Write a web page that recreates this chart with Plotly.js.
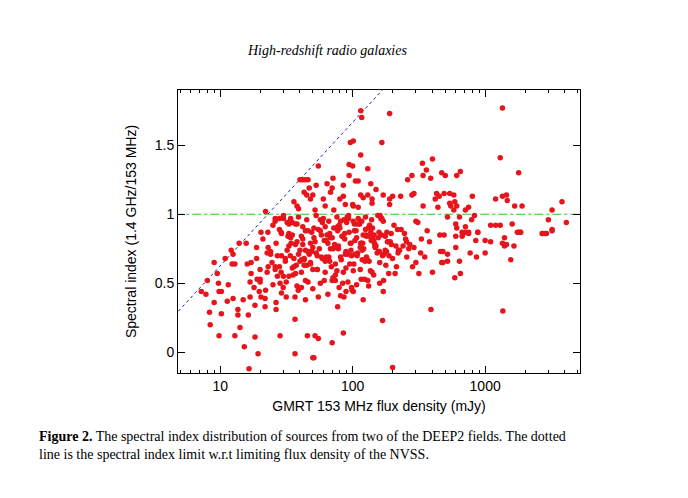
<!DOCTYPE html>
<html>
<head>
<meta charset="utf-8">
<script src="https://cdn.plot.ly/plotly-3.0.1.min.js"></script>
<style>body{margin:0;background:#fff}</style>
</head>
<body>
<div id="chart" style="width:688px;height:498px"></div>
<script>
// GMRT 153 MHz flux density (mJy) and spectral index
var flux = [
  40,42,44,46,47,43,45,48,36,38,39,22,26,28,30,34,35,37,32,33,
  115,190,117,96,101,166,115,55,94,100,130,336,400,360,470,71,280,260,340,388,94,110,105,137,53,64,85,
  70,68,60,50,115,120,130,150,140,170,200,190,230,280,290,420,430,450,80,85,88,100,110,140,190,340,440,52,62,72,101,
  1350,1300,500,610,650,1790,490,540,580,590,540,550,580,610,800,1200,1350,1450,1470,1670,1900,3800,3200,710,750,640,520,790,830,3000,4100,3200,600,610,710,1100,1200,1300,1600,670,750,880,1790,1850,2700,2900,
  490,600,670,680,710,750,880,850,1000,1100,1400,1350,1450,1400,1650,1750,1850,2700,2850,3200,600,520,480,520,480,640,770,860,1000,1560,650,590,1360,
  7.2,7.8,8.0,9.0,8.3,8.4,9.5,9.7,9.8,10.2,9.0,10.2,9.8,10.9,11.5,11.3,12.1,12.5,12.3,12.9,12.5,13.6,13.6,12.9,14.1,13.9,14.9,15.2,15.7,16.0,16.8,16.8,16.3,16.5,17.1,17.1,18.3,18.3,18.8,18.8,19.0,19.7,19.3,20.3,20.0,20.0,20.3,21.8,21.8,22.6,22.6,22.9,24.6,26.0,26.4,26.4,26.4,28.3,28.8,28.3,28.8,29.9,31.5,31.5,32.5,33.8,34.3,35.5,36.7,36.7,36.7,37.5,38.8,40,41,41,42,43,44,45.5,46,48,48,50,
  51,52,55,55,70,85,77,81,86,89,101,98,120,170,168,200,390,61,70,74,84,116,130,171,187,209,214,256,283,300,316,326,400,470,460,455,180,220,160,140,114,101,85,76,62,54,50,
  21,23,25,27,29,31,33,24,26,28,30,32,34,36,38,42,45,49,53,57,61,66,72,78,84,91,98,106,115,124,134,145,157,170,185,200,218,240,
  39,44,48,51,56,59,63,67,73,77,82,87,93,97,103,108,113,119,126,133,141,148,156,163,172,181,192,205,222,246,270,300,330,365,
  35,41,46,52,58,64,69,75,80,88,95,104,112,121,128,137,146,153,161,176,188,212,232,251,265,310,350,380,
  23,27,31,37,43,47,54,62,68,74,81,89,96,102,109,118,127,136,150,168,178,195,226,255,290,
  18,20,22,25,29,33,38,44,50,57,65,71,79,92,99,107,123,132,144,160,
  26,30,34,39,45,53,60,66,76,86,93,110,117,125,139,155,
  37,41,47,55,63,71,79,87,97,107,118,131,147,165,183,
  43,49,57,65,74,83,92,103,114,127,142,158,176,196,
  33,38,44,51,59,68,78,90,104,120,138,159,
  29,36,42,50,58,67,77,89,101,116,134,
  62,70,81,94,108,125,144,166,
  24,28,35,40,46,54
];
var index = [
  1.25,1.25,1.25,1.25,1.19,1.16,1.14,1.11,1.09,1.06,1.04,1.02,0.95,0.97,0.97,0.97,0.94,0.93,0.94,0.93,
  1.75,1.73,1.70,1.52,1.53,1.52,1.43,1.35,1.36,1.35,1.33,1.37,1.40,1.32,1.30,1.26,1.28,1.25,1.28,1.26,1.28,1.24,1.24,1.22,1.21,1.22,1.21,
  1.19,1.16,1.11,1.14,1.14,1.12,1.14,1.18,1.11,1.14,1.13,1.11,1.13,1.14,1.15,1.11,1.15,1.13,1.11,1.13,1.07,1.07,1.05,1.08,1.07,1.06,1.05,1.03,1.06,1.03,1.06,
  1.77,1.41,1.28,1.28,1.31,1.30,1.15,1.15,1.14,1.09,1.08,1.06,1.03,1.06,1.13,1.11,1.13,1.14,1.10,1.06,1.06,1.09,1.03,1.03,1.05,0.98,0.98,0.96,0.99,0.96,0.94,0.89,0.93,0.90,0.91,0.92,0.92,0.92,0.93,0.87,0.87,0.87,0.87,0.87,0.86,0.86,
  0.85,0.84,0.84,0.86,0.87,0.86,0.87,0.81,0.81,0.80,0.83,0.79,0.78,0.77,0.77,0.87,0.87,0.86,0.86,0.88,0.76,0.71,0.73,0.66,0.65,0.66,0.72,0.69,0.72,0.67,0.57,0.54,0.30,
  0.44,0.42,0.52,0.65,0.29,0.20,0.57,0.50,0.44,0.44,0.36,0.28,0.12,0.68,0.49,0.37,0.74,0.71,0.64,0.64,0.39,0.31,0.27,0.12,0.18,0.79,0.38,0.04,0.79,0.64,0.51,0.40,0.27,-0.12,0.65,0.57,0.11,0.34,0.76,0.68,0.53,0.44,-0.01,0.87,0.60,0.51,0.40,0.33,0.39,0.72,0.58,0.87,0.65,0.60,0.79,0.31,0.36,0.50,0.87,0.12,0.58,0.47,0.40,0.51,0.84,0.70,0.79,0.56,0.40,0.24,-0.01,0.63,0.45,0.74,0.58,0.47,0.82,0.68,0.38,0.12,0.51,0.79,0.65,-0.04,
  -0.04,0.12,0.10,0.40,0.07,0.14,0.33,0.41,0.40,0.44,0.44,0.47,0.38,0.44,0.23,-0.11,0.31,0.52,0.52,0.52,0.50,0.53,0.52,0.52,0.57,0.57,0.62,0.69,0.62,0.65,0.57,0.72,0.58,0.65,0.73,0.85,0.73,0.72,0.65,0.58,0.60,0.59,0.58,0.59,0.58,0.60,0.60,
  0.82,0.76,0.92,0.70,0.86,0.66,0.77,0.71,0.62,0.89,0.55,0.74,0.83,0.68,0.93,0.78,0.63,0.87,0.72,0.96,0.81,0.69,0.90,0.75,0.84,0.98,0.70,0.88,0.79,0.66,0.92,0.85,0.73,0.95,0.80,0.68,0.89,0.77,
  0.71,0.88,0.64,0.83,0.75,0.94,0.69,0.86,0.78,0.91,0.67,0.82,0.97,0.74,0.88,0.70,0.93,0.79,0.85,0.66,0.90,0.76,0.83,0.97,0.71,0.87,0.80,0.92,0.74,0.86,0.78,0.95,0.82,0.88,
  0.61,0.67,0.73,0.80,0.69,0.85,0.62,0.76,0.90,0.71,0.64,0.81,0.93,0.75,0.68,0.87,0.79,0.72,0.99,0.84,0.70,0.77,0.89,0.82,0.75,0.94,0.69,0.80,
  0.62,0.55,0.68,0.57,0.63,0.71,0.60,0.66,0.75,0.56,0.69,0.61,0.79,0.64,0.72,0.67,0.84,0.59,0.77,0.70,0.63,0.86,0.74,0.80,0.76,
  0.47,0.53,0.45,0.49,0.43,0.55,0.48,0.52,0.46,0.50,0.42,0.54,0.47,0.51,0.45,0.49,0.53,0.48,0.56,0.50,
  0.97,0.99,0.95,0.98,0.96,0.99,0.97,0.95,0.98,0.96,0.99,0.97,0.95,0.98,0.96,0.99,
  0.78,0.84,0.72,0.89,0.81,0.75,0.92,0.86,0.79,0.83,0.74,0.90,0.77,0.85,0.80,
  0.67,0.73,0.88,0.79,0.64,0.84,0.71,0.93,0.76,0.69,0.82,0.87,0.74,0.78,
  0.86,0.80,0.74,0.90,0.68,0.83,0.77,0.94,0.71,0.85,0.81,0.73,
  0.70,0.62,0.91,0.76,0.85,0.66,0.88,0.73,0.95,0.79,0.84,
  0.91,0.83,0.95,0.87,0.93,0.89,0.81,0.97,
  0.73,0.62,0.85,0.66,0.88,0.70
];

// NVSS limit: alpha = log(S153 / 2.5 mJy) / log(1400/153)
var limitFlux = [4.5, 10, 100, 200];
var limitIndex = limitFlux.map(function (s) { return Math.log10(s / 2.5) / Math.log10(1400 / 153); });
var refFlux = [4.5, 6000];
var refIndex = [1, 1];

var axisFont = {family: 'Liberation Sans, Arial, sans-serif', size: 14, color: '#000'};

Plotly.newPlot('chart', [
  {x: refFlux, y: refIndex, mode: 'lines', line: {color: '#22cc22', width: 1, dash: 'dashdot'}, hoverinfo: 'skip'},
  {x: limitFlux, y: limitIndex, mode: 'lines', line: {color: '#2222aa', width: 1, dash: 'dot'}, hoverinfo: 'skip'},
  {x: flux, y: index, mode: 'markers', type: 'scatter', marker: {color: '#e8141b', size: 5.5}}
], {
  width: 688, height: 498,
  margin: {l: 178, r: 108, t: 90, b: 125},
  showlegend: false,
  paper_bgcolor: '#fff', plot_bgcolor: '#fff',
  font: axisFont,
  xaxis: {
    type: 'log', range: [Math.log10(4.8), Math.log10(5200)],
    tickvals: [10, 100, 1000], ticktext: ['10', '100', '1000'],
    ticks: 'inside', ticklen: 7, tickcolor: '#000', mirror: 'allticks',
    minor: {ticks: 'inside', ticklen: 3, tickcolor: '#000', tickvals: [5,6,7,8,9,20,30,40,50,60,70,80,90,200,300,400,500,600,700,800,900,2000,3000,4000,5000]},
    showline: true, linecolor: '#000', linewidth: 1, showgrid: false, zeroline: false,
    title: {text: 'GMRT 153 MHz flux density (mJy)', font: axisFont, standoff: 8}
  },
  yaxis: {
    range: [-0.15, 1.9],
    tickvals: [0, 0.5, 1, 1.5], ticktext: ['0', '0.5', '1', '1.5'],
    ticks: 'inside', ticklen: 7, tickcolor: '#000', mirror: 'allticks',
    showline: true, linecolor: '#000', linewidth: 1, showgrid: false, zeroline: false,
    title: {text: 'Spectral index (1.4 GHz/153 MHz)', font: axisFont, standoff: 14}
  },
  annotations: [
    {text: '<i>High-redshift radio galaxies</i>', xref: 'paper', yref: 'paper', x: 0.37, y: 1.0, yshift: 40, showarrow: false,
     font: {family: 'Liberation Serif, Times New Roman, serif', size: 14, color: '#000'}, xanchor: 'center', yanchor: 'middle'},
    {text: '<b>Figure 2.</b> The spectral index distribution of sources from two of the DEEP2 fields. The dotted<br>line is the spectral index limit w.r.t limiting flux density of the NVSS.',
     xref: 'paper', yref: 'paper', x: -0.35, y: -0.19, showarrow: false, align: 'left', xanchor: 'left', yanchor: 'top',
     font: {family: 'Liberation Serif, Times New Roman, serif', size: 14, color: '#000'}}
  ]
}, {displayModeBar: false, staticPlot: true});
</script>
</body>
</html>
